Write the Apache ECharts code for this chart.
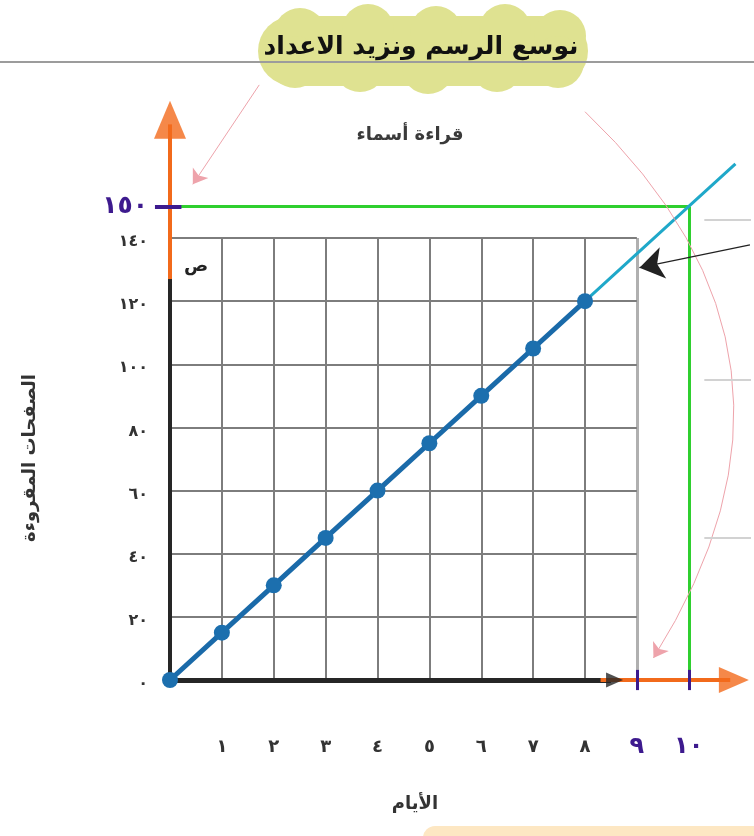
<!DOCTYPE html>
<html>
<head>
<meta charset="utf-8">
<script src="https://cdn.jsdelivr.net/npm/echarts@6/dist/echarts.min.js"></script>
<style>
  html, body { margin: 0; padding: 0; background: #ffffff; }
  #chart { width: 754px; height: 836px; }
</style>
</head>
<body>
<div id="chart"></div>
<script>
// Pages read per day
const days = [0, 1, 2, 3, 4, 5, 6, 7, 8];
const pagesRead = [0, 15, 30, 45, 60, 75, 90, 105, 120];

// Extending the line past the grid to reach the goal
const extendedDays = [8, 10, 10.9];
const extendedPages = [120, 150, 163.5];
const goalDay = 10;
const goalPages = 150;

// Tick labels (Arabic-Indic digits)
const dayTickValues = [1, 2, 3, 4, 5, 6, 7, 8, 9, 10];
const dayTickLabels = ['١', '٢', '٣', '٤', '٥', '٦', '٧', '٨', '٩', '١٠'];
const addedDays = [9, 10];
const pageTickValues = [0, 20, 40, 60, 80, 100, 120, 140];
const pageTickLabels = ['٠', '٢٠', '٤٠', '٦٠', '٨٠', '١٠٠', '١٢٠', '١٤٠'];
const goalPagesLabel = '١٥٠';

// Extent of the printed grid
const gridLastDay = 9;
const gridTopPages = 140;

// Texts
const bannerText = 'نوسع الرسم ونزيد الاعداد';
const chartTitle = 'قراءة أسماء';
const xName = 'الأيام';
const yName = 'الصفحات المقروءة';
const yLetter = 'ص';

// Layout of the plotting area
const ORIGIN_X = 170, ORIGIN_Y = 680;
const PX_PER_DAY = 52.25, PX_PER_PAGE = 3.157;
const X_MAX = 11.2, Y_MAX = 200;

const FONT = 'DejaVu Sans';
const PURPLE = '#3d1a8e';
const ORANGE = '#f26a1b';
const GREEN = '#2fcf2f';
const PINK = '#eea3ab';
const CLOUD = '#dfe291';

// grid lines
const gridLines = [];
for (let d = 1; d <= gridLastDay; d++) {
  gridLines.push({ coords: [[d, 0], [d, gridTopPages]],
    lineStyle: d === gridLastDay ? { color: '#b0b0b0', width: 3 } : undefined });
}
for (let p = 20; p <= gridTopPages; p += 20) {
  gridLines.push({ coords: [[0, p], [gridLastDay, p]] });
}

// banner cloud made of a rounded body with scalloped edges
const cloudParts = [
  { type: 'rect', shape: { x: 258, y: 16, width: 330, height: 70, r: 35 }, style: { fill: CLOUD } }
];
[[300, 34], [368, 30], [436, 32], [505, 30], [560, 36]].forEach(function (c) {
  cloudParts.push({ type: 'circle', shape: { cx: c[0], cy: c[1], r: 26 }, style: { fill: CLOUD } });
});
[[295, 62], [360, 66], [428, 68], [497, 66], [558, 62]].forEach(function (c) {
  cloudParts.push({ type: 'circle', shape: { cx: c[0], cy: c[1], r: 26 }, style: { fill: CLOUD } });
});

const chart = echarts.init(document.getElementById('chart'), null, { renderer: 'canvas' });

const option = {
  animation: false,
  backgroundColor: '#ffffff',
  grid: {
    left: ORIGIN_X,
    top: ORIGIN_Y - Y_MAX * PX_PER_PAGE,
    width: X_MAX * PX_PER_DAY,
    height: Y_MAX * PX_PER_PAGE
  },
  xAxis: {
    type: 'value', min: 0, max: X_MAX, interval: 1,
    axisLine: { show: false }, axisTick: { show: false }, splitLine: { show: false },
    axisLabel: {
      margin: 55,
      formatter: function (v) {
        const i = dayTickValues.indexOf(v);
        if (i < 0) return '';
        return addedDays.indexOf(v) >= 0 ? '{p|' + dayTickLabels[i] + '}' : '{n|' + dayTickLabels[i] + '}';
      },
      rich: {
        n: { fontFamily: FONT, fontSize: 18, color: '#333333', fontWeight: 'bold', lineHeight: 24 },
        p: { fontFamily: FONT, fontSize: 24, color: PURPLE, fontWeight: 'bold', lineHeight: 24 }
      }
    }
  },
  yAxis: {
    type: 'value', min: 0, max: Y_MAX, interval: 10,
    axisLine: { show: false }, axisTick: { show: false }, splitLine: { show: false },
    axisLabel: {
      margin: 22,
      formatter: function (v) {
        const i = pageTickValues.indexOf(v);
        if (i >= 0) return '{n|' + pageTickLabels[i] + '}';
        if (v === goalPages) return '{p|' + goalPagesLabel + '}';
        return '';
      },
      rich: {
        n: { fontFamily: FONT, fontSize: 16, color: '#333333', fontWeight: 'bold', padding: [8, 0, 0, 0] },
        p: { fontFamily: FONT, fontSize: 25, color: PURPLE, fontWeight: 'bold' }
      }
    }
  },
  series: [
    {
      name: 'grid', type: 'lines', coordinateSystem: 'cartesian2d', z: 1, silent: true,
      lineStyle: { color: '#7d7d7d', width: 2, opacity: 1 },
      data: gridLines
    },
    {
      name: 'goal', type: 'lines', coordinateSystem: 'cartesian2d', z: 2, silent: true,
      lineStyle: { color: GREEN, width: 3, opacity: 1 },
      data: [
        { coords: [[0, goalPages], [goalDay, goalPages]] },
        { coords: [[goalDay, goalPages], [goalDay, 0]] }
      ]
    },
    {
      name: 'axes', type: 'lines', coordinateSystem: 'cartesian2d', z: 3, silent: true, clip: false,
      lineStyle: { opacity: 1 },
      data: [
        { coords: [[0, 0], [0, 131]], lineStyle: { color: '#262626', width: 4 } },
        { coords: [[0, 127], [0, 176]], lineStyle: { color: ORANGE, width: 4 } },
        { coords: [[0, 0], [8.5, 0]], lineStyle: { color: '#262626', width: 5 } },
        { coords: [[8.3, 0], [10.8, 0]], lineStyle: { color: ORANGE, width: 4 } },
        { coords: [[-0.29, goalPages], [0.22, goalPages]], lineStyle: { color: PURPLE, width: 4 } },
        { coords: [[9, -3.2], [9, 3.2]], lineStyle: { color: PURPLE, width: 3 } },
        { coords: [[10, -3.2], [10, 3.2]], lineStyle: { color: PURPLE, width: 3 } }
      ]
    },
    {
      name: 'arrowheads', type: 'scatter', z: 4, silent: true, clip: false,
      data: [
        { value: [0, 177.5], symbol: 'triangle', symbolSize: [32, 38], symbolRotate: 0, itemStyle: { color: ORANGE } },
        { value: [10.87, 0], symbol: 'triangle', symbolSize: [26, 30], symbolRotate: -90, itemStyle: { color: ORANGE } },
        { value: [8.57, 0], symbol: 'triangle', symbolSize: [15, 17], symbolRotate: -90, itemStyle: { color: '#262626' } }
      ]
    },
    {
      name: 'extension', type: 'line', z: 5, silent: true, clip: false,
      data: extendedDays.map((d, i) => [d, extendedPages[i]]),
      showSymbol: false, symbol: 'none',
      lineStyle: { color: '#1fa8c9', width: 3 }
    },
    {
      name: 'pages', type: 'line', z: 6, clip: false,
      data: days.map((d, i) => [d, pagesRead[i]]),
      symbol: 'circle', symbolSize: 16, showSymbol: true,
      lineStyle: { color: '#1a6aa9', width: 5 },
      itemStyle: { color: '#1c6fae' }
    },
    {
      name: 'notes', type: 'lines', coordinateSystem: 'cartesian2d', z: 7, silent: true, clip: false,
      symbol: ['none', 'arrow'],
      lineStyle: { opacity: 1 },
      data: [
        { coords: [[1.72, 188.5], [0.44, 157]], symbolSize: 14, lineStyle: { color: PINK, width: 1 }, itemStyle: { color: PINK } },
        { coords: [[8.0, 180], [9.32, 7]], symbolSize: 14, lineStyle: { color: PINK, width: 1, curveness: 0.41 }, itemStyle: { color: PINK } },
        { coords: [[11.18, 137.8], [9.05, 130.6]], symbolSize: 24, lineStyle: { color: '#222222', width: 1.3 }, itemStyle: { color: '#222222' } },
        { coords: [[10.3, 145.7], [11.2, 145.7]], symbol: 'none', lineStyle: { color: '#d2d2d2', width: 2 } },
        { coords: [[10.3, 95], [11.2, 95]], symbol: 'none', lineStyle: { color: '#d2d2d2', width: 2 } },
        { coords: [[10.3, 45], [11.2, 45]], symbol: 'none', lineStyle: { color: '#d2d2d2', width: 2 } }
      ]
    }
  ],
  graphic: [
    { type: 'line', shape: { x1: 0, y1: 62, x2: 754, y2: 62 }, style: { stroke: '#9c9c9c', lineWidth: 2 }, z: 1 },
    { type: 'group', z: 2, children: cloudParts },
    {
      type: 'text', x: 421, y: 47, z: 3,
      style: { text: bannerText, fontFamily: FONT, fontSize: 25, fontWeight: 'bold', fill: '#111111', align: 'center', verticalAlign: 'middle' }
    },
    {
      type: 'text', x: 410, y: 135, z: 3,
      style: { text: chartTitle, fontFamily: FONT, fontSize: 18, fontWeight: 'bold', fill: '#3a3a3a', align: 'center', verticalAlign: 'middle' }
    },
    {
      type: 'text', x: 196, y: 266, z: 10,
      style: { text: yLetter, fontFamily: FONT, fontSize: 18, fontWeight: 'bold', fill: '#222222', align: 'center', verticalAlign: 'middle' }
    },
    {
      type: 'text', x: 415, y: 804, z: 3,
      style: { text: xName, fontFamily: FONT, fontSize: 18, fontWeight: 'bold', fill: '#333333', align: 'center', verticalAlign: 'middle' }
    },
    {
      type: 'text', x: 30, y: 458, rotation: Math.PI / 2, z: 3,
      style: { text: yName, fontFamily: FONT, fontSize: 18, fontWeight: 'bold', fill: '#333333', align: 'center', verticalAlign: 'middle' }
    },
    {
      type: 'rect', shape: { x: 423, y: 826, width: 360, height: 30, r: 12 }, style: { fill: '#fde7c3' }, z: 1
    }
  ]
};

chart.setOption(option);
</script>
</body>
</html>
